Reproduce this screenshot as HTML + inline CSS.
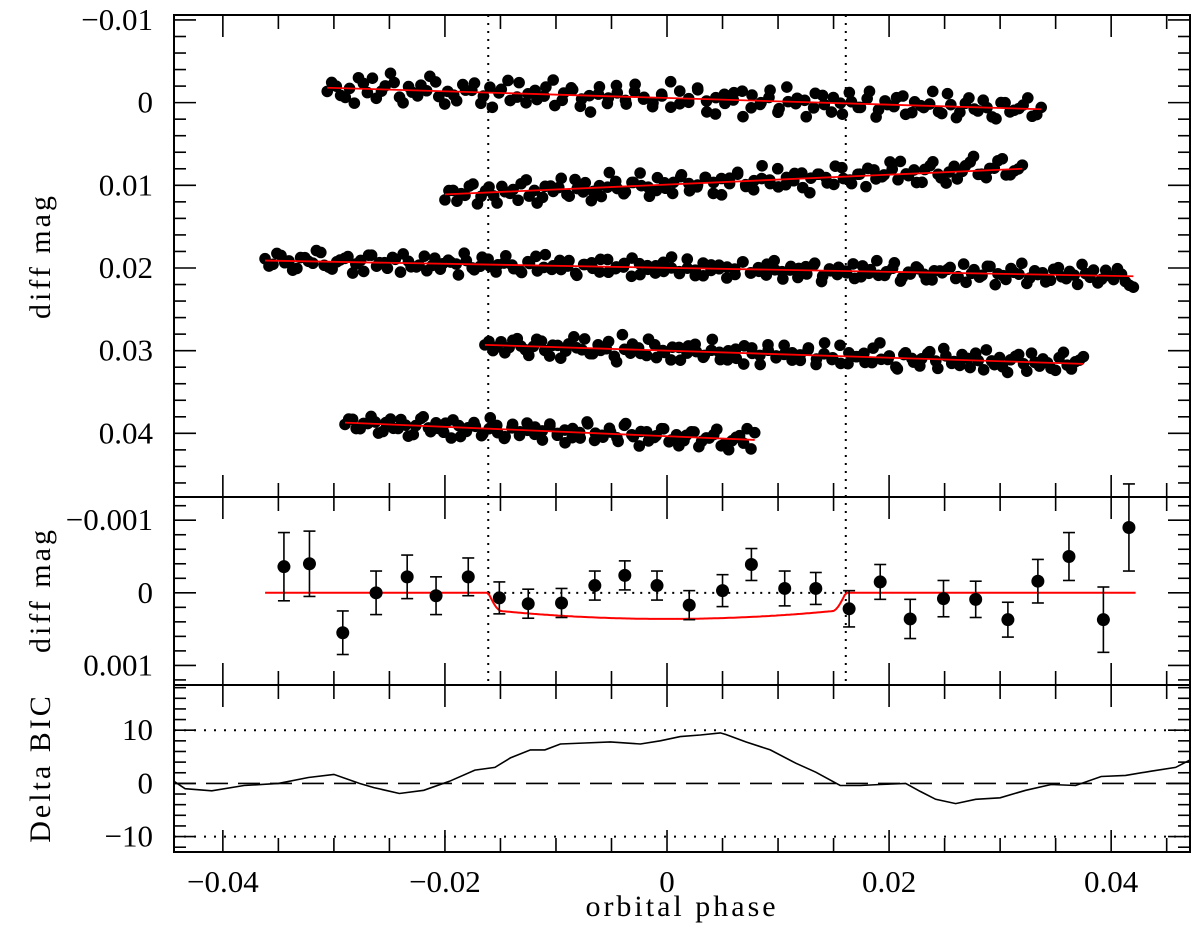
<!DOCTYPE html>
<html><head><meta charset="utf-8">
<style>
html,body{margin:0;padding:0;background:#fff;}
svg{display:block;}
text{font-family:"Liberation Serif",serif;fill:#000;}
</style></head>
<body>
<svg id="chart" width="1200" height="930" viewBox="0 0 1200 930" xmlns="http://www.w3.org/2000/svg"></svg>
<script>
// ---- data ----
const seriesStart = [-0.0306, -0.0200, -0.0362, -0.0164, -0.0290];
const seriesEnd   = [0.0337, 0.0320, 0.0420, 0.0375, 0.0079];
const trendStart  = [-0.0018, 0.0111, 0.0191, 0.0293, 0.0387];
const trendEnd    = [0.0008, 0.0080, 0.0210, 0.0316, 0.0408];
const noise1 = [2,-1,5,8,-3,-6,1,-9,4,-2,3,0,-5,7,2,-4,-1,6,-3,0,-7,2,5,-2,1,-8,3,-4,6,0,-1,4,-6,2,-3,1,5,-2,-9,3,0,-5,7,-1,2,-4,9,-3,1,-6,4,0,-2,8,-5,1,-3,6,-1,2,-7,3,0,-4,5,-2,1,-8,4,-1,3,-5,2,0,6,-3,1,-2,4,-1];
const noise2 = [3,-2,0,-4,6,-1,2,-3,1,5,-6,0,4,-2,-1,3,-5,2,7,-1,0,-3,4,-2,-7,1,3,-1,5,-4,0,2,-3,6,-2,1,-5,3,0,-8,2,4,-1,-3,5,0,-2,3,-6,1,4,-1,-4,2,0,-3,-7,1,5,-2,-6,3,0,4,-3,-8,2,-1,-5,3,1,-2];
const noise3 = [-1,2,-3,0,4,-2,1,-5,3,0,-2,6,-1,-4,2,0,-3,5,-1,2,-4,1,3,-2,0,-6,2,1,-3,4,-1,0,3,-2,-5,1,2,-3,0,4,-1,-2,3,-4,1,0,5,-2,-1,3,-3,0,2,-5,1,4,-2,0,-1,3,-4,2,1,-3,0,5,-2,-1,2,-4,3,0,-2,1,4,-3,-1,2,0,-5,3,1,-2,4,-1,0,-3,2,5,-2,1,-4,0,3,-1,-6,2,0,4,-3,1,-2,5,-1,-3,2,0,-4,3,6];
const noise4 = [0,3,-2,1,-4,2,0,-3,5,-1,2,-6,1,3,-2,0,4,-8,2,-1,3,-3,0,5,-2,1,-4,3,-1,0,4,-2,6,-3,1,-5,2,0,-1,3,-4,2,-7,1,4,-2,0,3,-5,1,-1,6,-3,2,0,-4,5,-2,1,-3,4,0,-6,2,3,-1,-4,5,0,-2,3,-3,1,-1,-4];
const noise5 = [1,-2,3,0,-1,4,-3,2,0,5,-4,1,-2,3,6,-1,2,-3,4,0,-2,5,-1,3,-4,2,0,-3,1,6,-2,3,-5,0,2,-1,4,-6,1,-2,3,0,-4,2,5,-1,-3,2,0,-5,3,1,-2,-6,-4];
const noise1b = [-3,4,0,-6,2,5,-2,-4,7,1,-3,-8,3,0,5,-1,-5,2,8,-2,4,-6,0,3,-4,6,-1,-3,2,9,-5,1,-2,4,-7,0,3,-1,5,-4,2,-6,1,8,-3,0,-5,4,2,-2,6,-8,1,-1,3,-4,5,0,-6,2,-3,7,-2,1,-5,4,0,-1,3,-7,6,-2,1,-4,5,-3,2,0,-6,3];
const noise2b = [-2,4,1,-5,2,-3,6,0,-1,-4,3,7,-2,1,-6,4,0,-3,2,5,-8,1,3,-2,0,6,-4,2,-1,-5,4,1,-3,0,7,-2,-4,2,5,-1,0,-6,3,1,-3,8,-2,0,4,-5,2,-1,6,-3,1,-7,3,0,-2,5,-4,1,6,-3,0,-5,2,4,-1,-6,3,0];
const noise3b = [3,-4,1,5,-2,0,-6,2,4,-1,-3,1,5,-4,0,3,-2,-5,2,1,4,-3,0,-1,6,-2,3,-4,1,0,-5,2,4,-1,3,-6,0,2,-3,5,-1,1,-4,3,0,-2,-5,4,1,-1,2,-6,3,0,4,-3,1,-2,5,0,-4,2,-1,3,-5,1,0,4,-2,-3,6,-1,2,0,-4,3,1,-6,2,-2,5,0,-3,1,4,-1,-2,3,-5,0,2,-4,6,1,-3,0,5,-2,-1,3,-4,2,0,-6,1,4,-3,2,-1,5];
const noise4b = [-2,1,4,-3,0,5,-4,2,-1,6,-2,0,-5,3,1,-4,7,0,-3,2,-6,4,1,-2,5,-3,0,2,-7,4,-1,3,-4,0,6,-2,1,-5,3,0,-3,5,-1,2,-6,4,0,-2,3,-8,1,5,-2,0,4,-3,1,-6,2,3,-1,-4,5,0,-2,6,-3,1,-5,2,0,4,-6,3,-2];
const noise5b = [-2,3,0,-4,5,-1,2,-3,6,0,-5,3,1,-2,-4,5,0,-1,3,-6,2,4,-3,1,0,-2,5,-4,2,-1,3,0,-6,4,1,-3,2,-5,0,6,-2,1,-4,3,-1,2,-3,5,0,-2,4,6,-1,2,5];
const noiseUnit = 0.00022;

const binPhase = [-0.0345,-0.0322,-0.0292,-0.0262,-0.0234,-0.0208,-0.0179,-0.0151,-0.0125,-0.0095,-0.0065,-0.0038,-0.0009,0.0020,0.0050,0.0076,0.0106,0.0134,0.0164,0.0192,0.0219,0.0249,0.0278,0.0307,0.0334,0.0362,0.0393,0.0416];
const binMag   = [-0.00036,-0.00040,0.00055,0.0000,-0.00022,0.00004,-0.00022,0.00007,0.00015,0.00014,-0.0001,-0.00024,-0.0001,0.00017,-0.00003,-0.00039,-0.00006,-0.00006,0.00022,-0.00015,0.00036,0.00008,0.00009,0.00037,-0.00016,-0.0005,0.00037,-0.0009];
const binErr   = [0.00047,0.00045,0.0003,0.0003,0.0003,0.00026,0.00026,0.00022,0.0002,0.0002,0.0002,0.0002,0.0002,0.0002,0.00022,0.00022,0.00024,0.00022,0.00025,0.00024,0.00027,0.00025,0.00025,0.00024,0.0003,0.00033,0.00045,0.0006];

const bicPhase = [-0.0444,-0.0434,-0.0410,-0.0381,-0.0350,-0.0323,-0.0300,-0.0277,-0.0264,-0.0241,-0.0219,-0.0196,-0.0173,-0.0155,-0.0141,-0.0123,-0.0110,-0.0096,-0.0074,-0.0051,-0.0024,-0.0006,0.0012,0.0030,0.0048,0.0053,0.0071,0.0093,0.0116,0.0134,0.0156,0.0174,0.0192,0.0215,0.0228,0.0242,0.0260,0.0278,0.0300,0.0323,0.0346,0.0368,0.0391,0.0413,0.0436,0.0458,0.0471];
const bicVal   = [0.4,-1.0,-1.4,-0.4,0.0,1.1,1.7,0.0,-0.8,-1.9,-1.3,0.4,2.5,3.0,4.8,6.3,6.3,7.4,7.6,7.8,7.4,8.0,8.8,9.1,9.5,9.2,7.8,6.3,3.8,2.1,-0.4,-0.4,-0.2,0.0,-1.5,-3.0,-3.8,-3.0,-2.7,-1.3,-0.2,-0.4,1.3,1.5,2.3,3.0,4.4];

// ---- layout ----
const NS="http://www.w3.org/2000/svg";
const svg=document.getElementById('chart');
const L=174,R=1190;
const P1={top:15,bot:497,min:-0.0106,max:0.0477};
const P2={top:497,bot:685,min:-0.00132,max:0.00127};
const P3={top:685,bot:852,min:18.5,max:-12.9};
const XMIN=-0.0444, XMAX=0.0471;
function X(p){return L+(p-XMIN)/(XMAX-XMIN)*(R-L);}
function Yf(P){return v=>P.top+(v-P.min)/(P.max-P.min)*(P.bot-P.top);}
const Y1=Yf(P1),Y2=Yf(P2),Y3=Yf(P3);
function el(tag,attrs,parent){const e=document.createElementNS(NS,tag);for(const k in attrs)e.setAttribute(k,attrs[k]);(parent||svg).appendChild(e);return e;}
function line(x1,y1,x2,y2,extra,parent){return el('line',Object.assign({x1,y1,x2,y2,stroke:'#000','stroke-width':2},extra||{}),parent);}

[P1,P2,P3].forEach((P,i)=>{
  const r=el('rect',{x:L,y:P.top,width:R-L,height:P.bot-P.top,fill:'none',stroke:'#000','stroke-width':2});
  
  
});

const g=el('g',{});


[P1,P2,P3].forEach(P=>{
  for(let k=-8;k<=9;k++){
    const p=k*0.005; if(p<XMIN||p>XMAX) continue;
    const major=(k%4===0); const len=major?22:14; const x=X(p);
    line(x,P.bot,x,P.bot-len,{'stroke-width':1.6},g);
    line(x,P.top,x,P.top+len,{'stroke-width':1.6},g);
  }
});
function yticks(P,Y,minorStep,majorEvery,lo,hi){
  for(let k=Math.ceil(lo/minorStep);k*minorStep<=hi+1e-12;k++){
    const v=k*minorStep; const y=Y(v); if(y<P.top+1||y>P.bot-1) continue;
    const major=(k%majorEvery===0); const len=major?22:12;
    line(L,y,L+len,y,{'stroke-width':1.6},g);
    line(R,y,R-len,y,{'stroke-width':1.6},g);
  }
}
yticks(P1,Y1,0.002,5,-0.012,0.048);
yticks(P2,Y2,0.0002,5,-0.0014,0.0014);
yticks(P3,Y3,2,5,-14,20);

function label(txt,x,y,anchor,name){const t=el('text',{x,y,'font-size':31,'text-anchor':anchor});t.textContent=txt;return t;}
const xLabs=[-0.04,-0.02,0,0.02,0.04], xLabTxt=['\u22120.04','\u22120.02','0','0.02','0.04'];
xLabs.forEach((p,i)=>label(xLabTxt[i],X(p),892,'middle','x-tick-label'));
const y1Labs=[-0.01,0,0.01,0.02,0.03,0.04], y1Txt=['\u22120.01','0','0.01','0.02','0.03','0.04'];
y1Labs.forEach((v,i)=>label(y1Txt[i],153,Y1(v)+10,'end','y1-tick-label'));
const y2Labs=[-0.001,0,0.001], y2Txt=['\u22120.001','0','0.001'];
y2Labs.forEach((v,i)=>label(y2Txt[i],153,Y2(v)+10,'end','y2-tick-label'));
const y3Labs=[10,0,-10], y3Txt=['10','0','\u221210'];
y3Labs.forEach((v,i)=>label(y3Txt[i],153,Y3(v)+10,'end','y3-tick-label'));

function vtitle(txt,cx,cy,name){const t=el('text',{x:0,y:0,'font-size':30,'text-anchor':'middle','letter-spacing':'3',transform:`translate(${cx},${cy}) rotate(-90)`});t.textContent=txt;}
vtitle('diff  mag',50,256,'y1-axis-title');
vtitle('diff  mag',50,590,'y2-axis-title');
vtitle('Delta  BIC',50,768,'y3-axis-title');
{const t=el('text',{x:682,y:916,'font-size':30,'text-anchor':'middle','letter-spacing':'3'});t.textContent='orbital  phase';}

const T1=-0.0161,T2=0.0161;
[T1,T2].forEach(p=>{const l=line(X(p),P1.top,X(p),P2.bot,{'stroke-width':2,'stroke-dasharray':'2 6'});});
{const l=line(X(T1),Y2(0),X(T2),Y2(0),{'stroke-width':2,'stroke-dasharray':'2 6'});}

const noises=[noise1,noise2,noise3,noise4,noise5];
const noisesB=[noise1b,noise2b,noise3b,noise4b,noise5b];
noises.forEach((nz,s)=>{
  const grp=el('g',{});
  
  
  const span=seriesEnd[s]-seriesStart[s];
  [nz,noisesB[s]].forEach((arr,pass)=>{
    const n=arr.length;
    for(let i=0;i<n;i++){
      const f=pass===0? i/(n-1) : (i+0.5)/n;
      const p=seriesStart[s]+f*span;
      const m=trendStart[s]+f*(trendEnd[s]-trendStart[s])+arr[i]*noiseUnit;
      const c=el('circle',{cx:X(p),cy:Y1(m),r:5.8,fill:'#000'},grp);
      
      
    }
  });
  const tl=line(X(seriesStart[s]),Y1(trendStart[s]),X(seriesEnd[s]),Y1(trendEnd[s]),{stroke:'#f00','stroke-width':1.8},grp);
  
  
});

function model(p){
  const depth=0.00036, half=0.0161, ing=0.0012;
  const a=Math.abs(p); if(a>=half) return 0;
  const core=depth*(1-0.35*Math.pow(a/half,2));
  const edge=Math.min(1,(half-a)/ing);
  return core*(edge<1?Math.sin(edge*Math.PI/2):1);
}
{
  let d='';
  for(let p=-0.0362;p<=0.0423;p+=0.0002){d+=(d?'L':'M')+X(p).toFixed(1)+','+Y2(model(p)).toFixed(1);}
  const pa=el('path',{d,fill:'none',stroke:'#f00','stroke-width':2});
  
  
}
binPhase.forEach((p,i)=>{
  const grp=el('g',{});
  
  
  const x=X(p),y=Y2(binMag[i]),y1=Y2(binMag[i]-binErr[i]),y2=Y2(binMag[i]+binErr[i]);
  line(x,y1,x,y2,{'stroke-width':1.6},grp);
  line(x-6,y1,x+6,y1,{'stroke-width':1.6},grp);
  line(x-6,y2,x+6,y2,{'stroke-width':1.6},grp);
  el('circle',{cx:x,cy:y,r:6.5,fill:'#000'},grp);
});

[10,-10].forEach(v=>{const l=line(L,Y3(v),R,Y3(v),{'stroke-width':2,'stroke-dasharray':'2 8'});});
{const l=line(L,Y3(0),R,Y3(0),{'stroke-width':1.6,'stroke-dasharray':'22 10'});}
{
  const d=bicPhase.map((p,i)=>(i?'L':'M')+X(p).toFixed(1)+','+Y3(bicVal[i]).toFixed(1)).join('');
  const pa=el('path',{d,fill:'none',stroke:'#000','stroke-width':1.6});
  
  
}
</script>
</body></html>
